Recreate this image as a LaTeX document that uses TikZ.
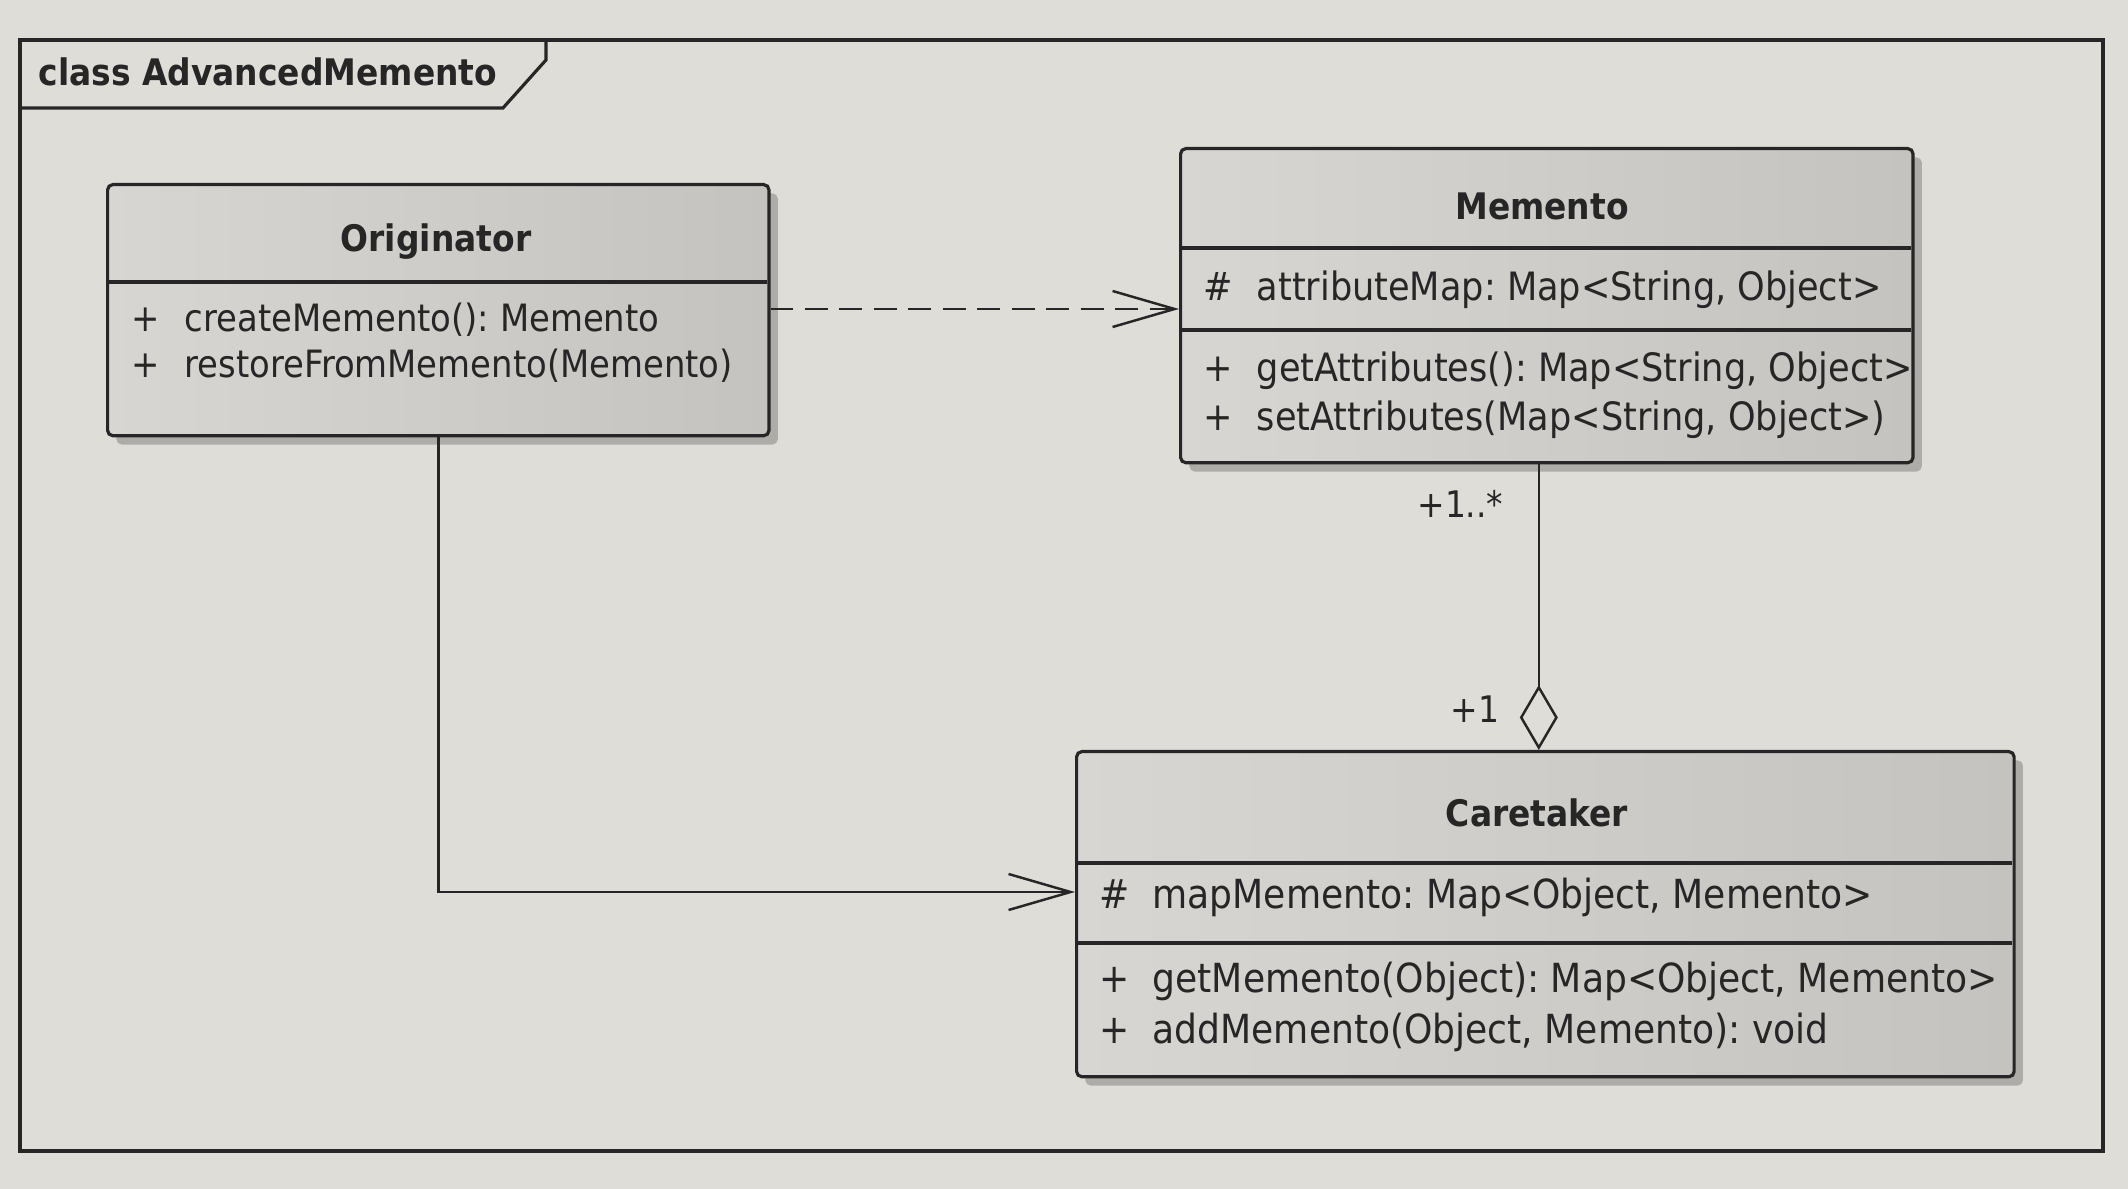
\documentclass[tikz,border=0pt]{standalone}
\usepackage{fontspec}
\setmainfont{DejaVu Sans Condensed}
\usetikzlibrary{arrows.meta,shadows}
\definecolor{paper}{RGB}{223,221,216}
\definecolor{boxA}{RGB}{215,214,211}
\definecolor{boxB}{RGB}{196,195,192}
\definecolor{ink}{RGB}{38,38,38}
\newcommand\vis[1]{\makebox[0.53cm][l]{#1}}
\frenchspacing
\begin{document}
\begin{tikzpicture}[x=0.01cm,y=-0.01cm,
  every node/.style={font=\fontsize{10.4}{12.5}\selectfont, text=ink, inner sep=0pt},
  classbox/.style={draw=ink, line width=0.9pt, rounded corners=1.5pt, left color=boxA, right color=boxB,
    drop shadow={shadow xshift=2.5pt, shadow yshift=-2.5pt, fill=black, opacity=0.22}, anchor=north west},
  member/.style={anchor=base west, font=\fontsize{#1}{13}\selectfont},
  ctitle/.style={anchor=base, font=\fontsize{10.4}{12.5}\selectfont\bfseries},
  divider/.style={draw=ink, line width=0.9pt},
  conn/.style={draw=ink, line width=0.7pt},
  openarrow/.style={-{Straight Barb[length=0.62cm, width=0.36cm, line width=0.7pt]}},
  agg/.style={{Diamond[length=0.65cm, width=0.38cm, fill=paper, line width=0.7pt]}-}
]
\useasboundingbox[fill=paper] (0,0) rectangle (2128,1189);

% frame
\draw[ink, line width=0.9pt] (20,40) rectangle (2103,1151);
\draw[ink, line width=0.9pt] (20,108) -- (503,108) -- (546,60) -- (546,40);
\node[anchor=base west, font=\fontsize{10.4}{12.5}\selectfont\bfseries] (frametitle) at (38,86) {class AdvancedMemento};

% Originator
\node[classbox, minimum width=6.61cm, minimum height=2.51cm] (orig) at (106,183) {};
\draw[divider] (106,282) -- (767,282);
\node[ctitle] (origT) at (436,252) {Originator};
\node[member=10.7] (orig1) at (131,332) {\vis{+}createMemento(): Memento};
\node[member=10.7] (orig2) at (131,378) {\vis{+}restoreFromMemento(Memento)};

% Memento
\node[classbox, minimum width=7.32cm, minimum height=3.14cm] (mem) at (1179,147) {};
\draw[divider] (1179,248) -- (1911,248);
\draw[divider] (1179,330) -- (1911,330);
\node[ctitle] (memT) at (1542,220) {Memento};
\node[member=11.1] (mem1) at (1203,301) {\vis{\#}attributeMap: Map<String, Object>};
\node[member=11.1] (mem2) at (1203,382) {\vis{+}getAttributes(): Map<String, Object>};
\node[member=11.1] (mem3) at (1203,431) {\vis{+}setAttributes(Map<String, Object>)};

% Caretaker
\node[classbox, minimum width=9.37cm, minimum height=3.25cm] (care) at (1075,750) {};
\draw[divider] (1075,863) -- (2012,863);
\draw[divider] (1075,943) -- (2012,943);
\node[ctitle] (careT) at (1537,826) {Caretaker};
\node[member=11.4] (care1) at (1099,908) {\vis{\#}mapMemento: Map<Object, Memento>};
\node[member=11.4] (care2) at (1099,992) {\vis{+}getMemento(Object): Map<Object, Memento>};
\node[member=11.4] (care3) at (1099,1043) {\vis{+}addMemento(Object, Memento): void};

% connector anchor points
\path (orig.north east) ++(0,126) coordinate (origR);
\path (mem.north west) ++(0,162) coordinate (memL);
\path (care.north west) ++(0,142) coordinate (careL);
\path (mem.south) ++(-8,0) coordinate (memB);

% dependency
\draw[conn, openarrow, dash pattern=on 6.5pt off 3.3pt] (origR) -- (memL);
% association
\draw[conn, openarrow] (orig.south) |- (careL);
% aggregation
\draw[conn, agg] (memB |- care.north) -- (memB);

% multiplicities
\node[anchor=base east] (m1) at (1504,518) {+1..*};
\node[anchor=base east] (m2) at (1500,722) {+1};
\end{tikzpicture}
\end{document}
